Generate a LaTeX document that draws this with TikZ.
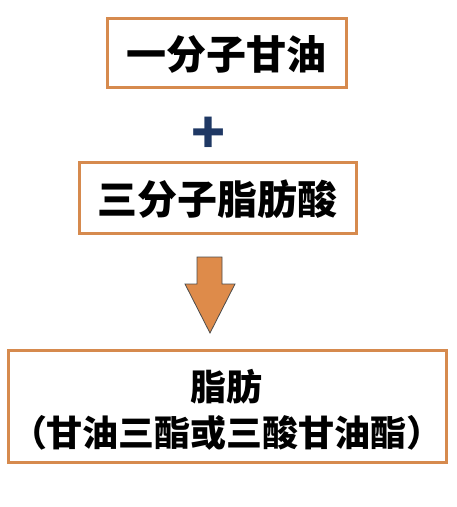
\documentclass[tikz,border=0pt]{standalone}
\usepackage{fontspec}
\newfontfamily\cjk{Noto Sans CJK SC}
\definecolor{boxorange}{RGB}{214,138,78}
\definecolor{arroworange}{RGB}{222,139,74}
\definecolor{plusblue}{RGB}{31,56,100}
\newcommand{\dn}[2]{\raisebox{-#1}[\height][\depth]{#2}}
\begin{document}
\begin{tikzpicture}[x=1pt,y=-1pt,
  box/.style={draw=boxorange,line width=3pt,fill=white,inner sep=0pt},
  bigtext/.style={font=\cjk\bfseries\fontsize{40}{40}\selectfont},
]
\useasboundingbox (0,0) rectangle (457,507);
\node[box,bigtext,minimum width=239pt,minimum height=69pt] (glycerol) at (226.5,52.5) {\dn{2pt}{一分子甘油}};
\node[font=\cjk\bfseries\fontsize{56}{56}\selectfont,text=plusblue,inner sep=0pt] (plus) at (209,135) {+};
\node[box,bigtext,minimum width=277pt,minimum height=71pt] (acid) at (217.5,197.5) {\dn{2pt}{三分子脂肪酸}};
\node[box,minimum width=438pt,minimum height=112pt,align=center,font=\cjk\bfseries\fontsize{36}{46}\selectfont] (fat) at (227,406) {\dn{4pt}{脂肪}\\\dn{4pt}{（甘油三酯或三酸甘油酯）}};
\draw[fill=arroworange,draw=black!70,line width=0.8pt]
  (197,257) -- (222,257) -- (222,284) -- (235,284) -- (210,333) -- (185,284) -- (197,284) -- cycle;
\end{tikzpicture}
\end{document}
